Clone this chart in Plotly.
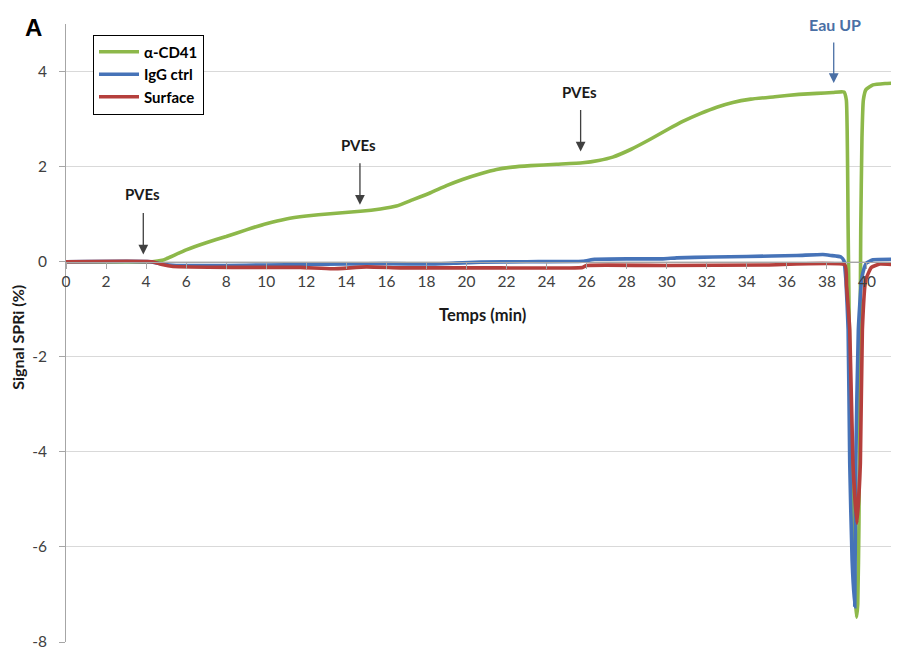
import plotly.graph_objects as go

# ---- data (time in min, SPRi signal in %) ----
green_t = [0, 4.3, 4.8, 5.0, 6.0, 7.0, 8.0, 9.0, 10.0, 11.0, 12.0, 13.2, 14.7, 15.7, 16.5, 17.3, 18.2,
           19.0, 19.8, 20.7, 21.5, 22.3, 23.2, 24.5, 25.8, 26.6, 27.3, 28.2, 29.2, 30.0, 30.8,
           31.7, 32.5, 33.3, 34.2, 35.4, 36.6, 37.5, 38.3, 38.85, 38.97, 39.06, 39.15, 39.3,
           39.42, 39.48, 39.54, 39.6, 39.69, 39.75, 39.82, 39.95, 40.3, 40.9, 41.6]
green_v = [0, 0, 0.03, 0.06, 0.25, 0.4, 0.53, 0.67, 0.8, 0.9, 0.96, 1.01, 1.06, 1.11, 1.17, 1.3, 1.45,
           1.6, 1.73, 1.85, 1.94, 1.99, 2.02, 2.05, 2.08, 2.13, 2.2, 2.36, 2.58, 2.77, 2.95,
           3.12, 3.25, 3.35, 3.42, 3.47, 3.52, 3.54, 3.56, 3.57, 3.4, 0.67, -2.5, -5.5,
           -7.1, -7.48, -7.2, -5.5, 0.67, 2.6, 3.4, 3.62, 3.72, 3.75, 3.76]

blue_t = [0, 4.2, 4.8, 5.5, 8, 10, 12, 14, 16, 18.2, 19.5, 20.7, 23, 25.8, 26.4, 28, 29.8, 30.5,
          32.3, 34, 36.5, 37.8, 38.2, 38.7, 38.85, 38.95, 39.06, 39.14, 39.26, 39.39, 39.44,
          39.57, 39.73, 39.85, 39.97, 40.3, 41.6]
blue_v = [0, 0, -0.05, -0.08, -0.08, -0.07, -0.06, -0.05, -0.04, -0.05, -0.03, -0.01, 0.0, 0.01,
          0.05, 0.06, 0.06, 0.08, 0.1, 0.11, 0.13, 0.15, 0.13, 0.1, 0.02, -0.4, -1.43, -4.24,
          -6.3, -7.26, -4.24, -1.43, -0.38, -0.15, -0.03, 0.04, 0.05]

red_t = [0, 4.3, 4.8, 5.35, 8.3, 11.7, 13.3, 15, 16.7, 18.2, 21, 25.8, 26.0, 30, 35, 38.9,
         38.98, 39.14, 39.3, 39.5, 39.67, 39.77, 39.94, 40.22, 40.64, 41.6]
red_v = [0, 0, -0.06, -0.1, -0.12, -0.12, -0.15, -0.11, -0.13, -0.13, -0.13, -0.12, -0.08, -0.08,
         -0.07, -0.07, -0.5, -1.43, -4.24, -5.5, -4.24, -1.43, -0.38, -0.12, -0.05, -0.07]

series_names = ["α-CD41", "IgG ctrl", "Surface"]
y_ticks = [-8, -6, -4, -2, 0, 2, 4]
x_ticks = list(range(0, 42, 2))

# arrows: (tip time, tip signal, label, label signal)
pve_arrows = [(3.86, 0.15, "PVEs", 1.43), (14.68, 1.2, "PVEs", 2.46), (25.7, 2.32, "PVEs", 3.56)]
eau_arrow = (38.34, 3.76, "Eau UP", 4.99)

colors = ["#8db84a", "#4673b8", "#b53f3c"]
FONT = "Lato"

# page body has an 8px margin: figure is sized/offset to compensate
W, H = 891, 643
L, R, T, B = 58, 0, 16, 9
PW = W - L - R

fig = go.Figure()
for t, v, name, c in zip([green_t, blue_t, red_t], [green_v, blue_v, red_v], series_names, colors):
    fig.add_trace(go.Scatter(x=t, y=v, mode="lines", name=name,
                             line=dict(color=c, width=3.6, shape="spline", smoothing=0.4)))

annotations = []
for tx, ty, lab, ly in pve_arrows:
    annotations.append(dict(x=tx, y=ty, xref="x", yref="y", text="", showarrow=True,
                            ax=0, ay=-43, arrowhead=2, arrowsize=1.5, arrowwidth=1.3,
                            arrowcolor="#404040"))
    annotations.append(dict(x=tx - 0.05, y=ly, xref="x", yref="y", text="<b>%s</b>" % lab,
                            xanchor="center", yanchor="middle",
                            showarrow=False, font=dict(family=FONT, size=15, color="#1a1a1a")))
tx, ty, lab, ly = eau_arrow
annotations.append(dict(x=tx, y=ty, xref="x", yref="y", text="", showarrow=True,
                        ax=0, ay=-42, arrowhead=2, arrowsize=1.5, arrowwidth=1.3,
                        arrowcolor="#4a6fa5"))
annotations.append(dict(x=tx + 0.05, y=ly, xref="x", yref="y", text="<b>%s</b>" % lab,
                        xanchor="center", yanchor="middle",
                        showarrow=False, font=dict(family=FONT, size=16, color="#4a6fa5")))
# panel letter (window px ~ (33, 28))
annotations.append(dict(x=(33 - 66) / PW, y=(642 - 28) / 617.5, xref="paper", yref="paper",
                        text="<b>A</b>", xanchor="center", yanchor="middle",
                        showarrow=False, font=dict(family="Liberation Sans", size=24, color="black")))
# axis titles
annotations.append(dict(x=(482 - 66) / PW, y=-1.12, xref="paper", yref="y", text="<b>Temps (min)</b>",
                        xanchor="center", yanchor="middle",
                        showarrow=False, font=dict(family=FONT, size=16.5, color="#1a1a1a")))
annotations.append(dict(x=(18 - 66) / PW, y=(642 - 338) / 617.5, xref="paper", yref="paper",
                        text="<b>Signal SPRi (%)</b>", xanchor="center", yanchor="middle",
                        textangle=-90, showarrow=False,
                        font=dict(family=FONT, size=16, color="#1a1a1a")))

fig.update_layout(
    width=W, height=H,
    margin=dict(l=L, r=R, t=T, b=B),
    paper_bgcolor="white", plot_bgcolor="white",
    font=dict(family=FONT, size=14, color="#404040"),
    showlegend=True,
    legend=dict(x=(93 - 66) / PW, y=(642 - 35) / 617.5, xanchor="left", yanchor="top",
                bordercolor="black", borderwidth=1, bgcolor="white",
                font=dict(family=FONT, size=15, color="black", weight="bold"),
                tracegroupgap=0, itemwidth=40),
    annotations=annotations,
    xaxis=dict(range=[0, 41.6], tickvals=x_ticks, ticktext=[str(v) for v in x_ticks],
               anchor="free", position=8 / 13, showline=True, linecolor="#a6a6a6", linewidth=1,
               ticks="outside", ticklen=6, tickcolor="#a6a6a6", showgrid=False, zeroline=False,
               tickfont=dict(family=FONT, size=15.5, color="#404040")),
    yaxis=dict(range=[-8, 5], tickvals=y_ticks, ticktext=[str(v) for v in y_ticks],
               showline=True, linecolor="#a6a6a6", linewidth=1, ticks="outside", ticklen=6,
               tickcolor="#a6a6a6", showgrid=True, gridcolor="#d9d9d9", gridwidth=1,
               zeroline=False, ticklabelstandoff=9,
               tickfont=dict(family=FONT, size=15.5, color="#404040")),
)

fig.write_html("out.html")
